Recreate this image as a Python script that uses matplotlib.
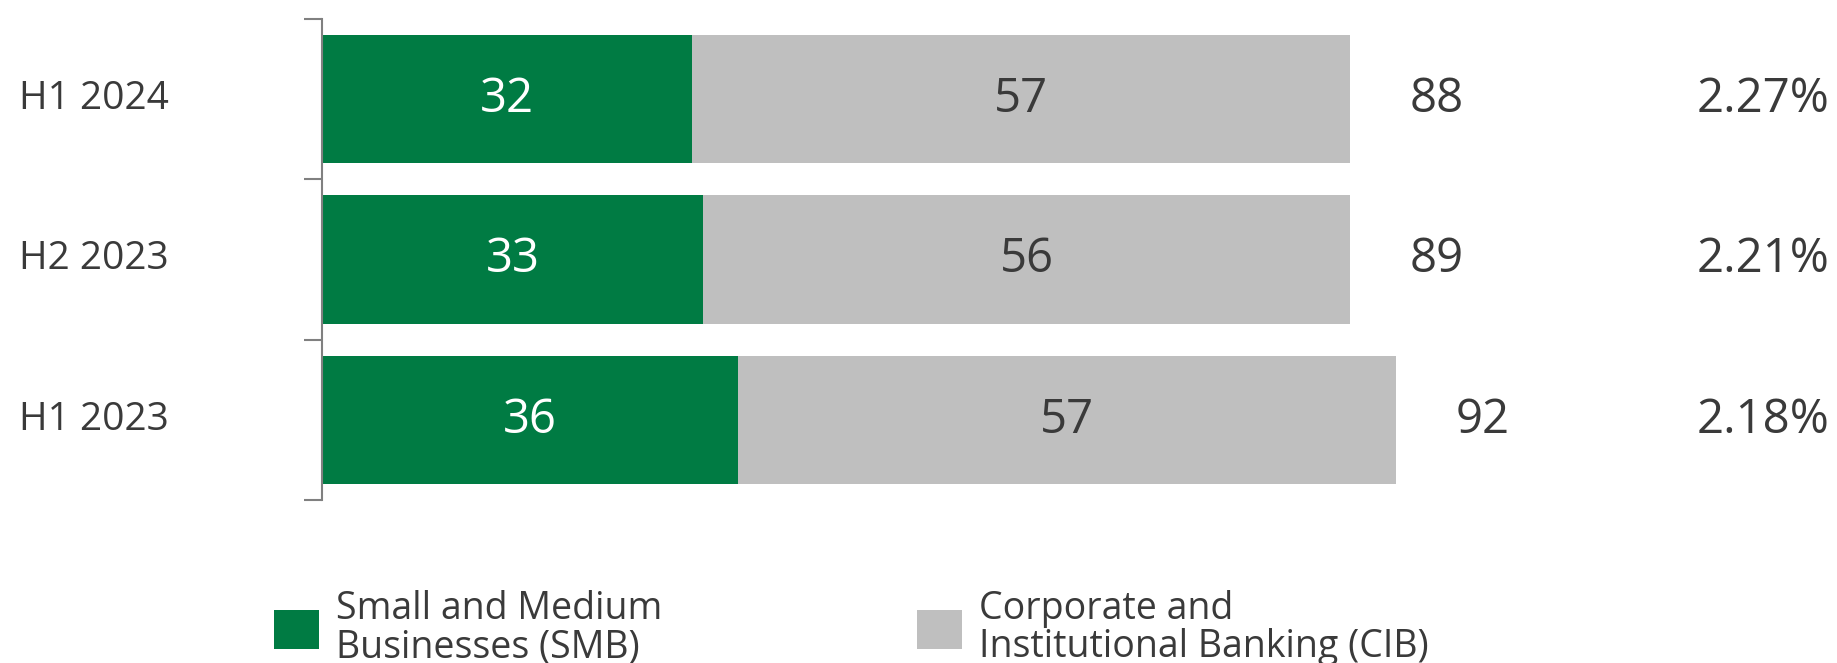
import matplotlib
matplotlib.use("Agg")
import matplotlib.pyplot as plt
from matplotlib.patches import Patch

# Data (bottom to top)
categories = ["H1 2023", "H2 2023", "H1 2024"]
smb = [36, 33, 32]
cib = [57, 56, 57]
totals = [92, 89, 88]
ratio_pct = [2.18, 2.21, 2.27]

GREEN = "#007B43"
GREY = "#BFBFBF"
TEXT = "#3A3A3A"
AXIS = "#808080"

plt.rcParams["font.family"] = ["Open Sans", "DejaVu Sans"]

W, H = 1837, 663
fig = plt.figure(figsize=(W / 100, H / 100), dpi=100)
left_px, right_px, top_px, bot_px = 322, 1837, 18.7, 500
ax = fig.add_axes([left_px / W, 1 - bot_px / H,
                   (right_px - left_px) / W, (bot_px - top_px) / H])

y = list(range(len(categories)))
ax.barh(y, smb, height=0.8, color=GREEN)
ax.barh(y, cib, left=smb, height=0.8, color=GREY)

ax.set_xlim(0, (right_px - left_px) / 11.55)
ax.set_ylim(-0.5, len(categories) - 0.5)

VAL_FS = 34
for i in y:
    ax.text(smb[i] / 2, i, f"{smb[i]}", ha="center", va="center",
            color="white", fontsize=VAL_FS)
    ax.text(smb[i] + cib[i] / 2, i, f"{cib[i]}", ha="center", va="center",
            color=TEXT, fontsize=VAL_FS)
    ax.text(smb[i] + cib[i] + 7.5, i, f"{totals[i]}", ha="center", va="center",
            color=TEXT, fontsize=VAL_FS)
    ax.text(124.8, i, f"{ratio_pct[i]:.2f}%", ha="center", va="center",
            color=TEXT, fontsize=VAL_FS)
    ax.text(-0.1507, i, categories[i], transform=ax.get_yaxis_transform(),
            ha="center", va="center", color=TEXT, fontsize=28)

# Axis styling: only the left spine with boundary ticks
for s in ["top", "right", "bottom"]:
    ax.spines[s].set_visible(False)
ax.spines["left"].set_color(AXIS)
ax.spines["left"].set_linewidth(1.5)
ax.set_xticks([])
ax.set_yticks([-0.5, 0.5, 1.5, 2.5])
ax.set_yticklabels([])
ax.tick_params(axis="y", length=12.7, width=1.5, color=AXIS)

# Legend, one entry per block
handles = [Patch(facecolor=GREEN), Patch(facecolor=GREY)]
labels = ["Small and Medium\nBusinesses (SMB)",
          "Corporate and\nInstitutional Banking (CIB)"]
anchors = [274, 917]
LEG_FS = 27
for h, lab, xa in zip(handles, labels, anchors):
    leg = fig.legend([h], [lab], loc="center left",
                     bbox_to_anchor=(xa / W, 1 - 628 / H),
                     frameon=False, fontsize=LEG_FS, borderpad=0, borderaxespad=0,
                     handlelength=45 / (LEG_FS * 100 / 72),
                     handleheight=46 / (LEG_FS * 100 / 72),
                     handletextpad=17 / (LEG_FS * 100 / 72))
    for t in leg.get_texts():
        t.set_color(TEXT)
        t.set_linespacing(1.02)

fig.savefig("out.png", dpi=100)
